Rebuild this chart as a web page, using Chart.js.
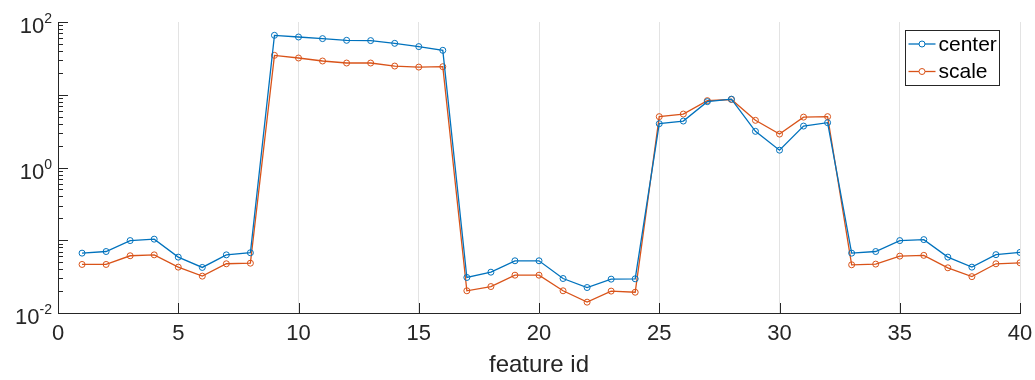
<!DOCTYPE html>
<html>
<head>
<meta charset="utf-8">
<script src="https://cdn.jsdelivr.net/npm/chart.js@4/dist/chart.umd.min.js"></script>
<style>
  html, body { margin: 0; padding: 0; background: #fff; }
  #wrap { width: 1035px; height: 380px; }
</style>
</head>
<body>
<div id="wrap"><canvas id="chart" width="1035" height="380"></canvas></div>
<script>
// data
const featureIds = [1, 2, 3, 4, 5, 6, 7, 8, 9, 10, 11, 12, 13, 14, 15, 16, 17, 18, 19, 20,
  21, 22, 23, 24, 25, 26, 27, 28, 29, 30, 31, 32, 33, 34, 35, 36, 37, 38, 39, 40]
const centerValues = [0.0665, 0.070, 0.099, 0.1035, 0.0586, 0.0423, 0.063, 0.0673,
  65.6, 62.2, 59.1, 56.0, 55.5, 50.9, 45.9, 40.8,
  0.0308, 0.0364, 0.0522, 0.0522, 0.0298, 0.0224, 0.0292, 0.0295,
  4.0, 4.35, 8.04, 8.7, 3.14, 1.73, 3.71, 4.13,
  0.0665, 0.070, 0.099, 0.102, 0.0586, 0.0427, 0.0634, 0.068]
const scaleValues = [0.0465, 0.0465, 0.0612, 0.063, 0.0427, 0.0321, 0.0475, 0.0484,
  34.8, 32.0, 29.1, 27.3, 27.3, 24.8, 24.0, 24.3,
  0.0202, 0.0231, 0.0331, 0.0331, 0.0202, 0.0141, 0.020, 0.0193,
  5.0, 5.43, 8.3, 8.6, 4.45, 2.88, 4.93, 5.0,
  0.046, 0.047, 0.0605, 0.062, 0.0418, 0.0316, 0.0475, 0.049]
const seriesNames = ['center', 'scale']
const xTicks = [0, 5, 10, 15, 20, 25, 30, 35, 40]
const yTickValues = [0.01, 1, 100]
const yTickExponents = ['-2', '0', '2']
const xTitle = 'feature id'

const FONT = "'Liberation Sans', Arial, Helvetica, sans-serif"
const AXIS = '#262626'
const BLUE = '#0072BD'
const ORANGE = '#D95319'

const toPoints = vals => vals.map((v, i) => ({ x: featureIds[i], y: v }))

// y labels like 10^2 and inward tick marks
const axisDecor = {
  id: 'axisDecor',
  afterDraw(chart) {
    const { ctx, chartArea } = chart
    const xs = chart.scales.x
    const ys = chart.scales.y
    ctx.save()
    ctx.strokeStyle = AXIS
    ctx.lineWidth = 1

    // x ticks, pointing up
    xTicks.forEach(t => {
      const px = Math.round(xs.getPixelForValue(t)) + 0.5
      ctx.beginPath()
      ctx.moveTo(px, chartArea.bottom)
      ctx.lineTo(px, chartArea.bottom - 10)
      ctx.stroke()
    })

    // y ticks, major and minor, pointing right
    for (let e = -2; e <= 1; e++) {
      for (let m = 1; m <= 10; m++) {
        const v = m * Math.pow(10, e)
        const py = Math.round(ys.getPixelForValue(v)) + 0.5
        const len = (m === 1 || m === 10) ? 10 : 5
        ctx.beginPath()
        ctx.moveTo(chartArea.left, py)
        ctx.lineTo(chartArea.left + len, py)
        ctx.stroke()
      }
    }

    // y labels
    ctx.fillStyle = AXIS
    ctx.textBaseline = 'alphabetic'
    yTickValues.forEach((v, i) => {
      const py = ys.getPixelForValue(v)
      const right = chartArea.left - 6
      ctx.font = '14px ' + FONT
      const expW = ctx.measureText(yTickExponents[i]).width
      ctx.textAlign = 'left'
      ctx.fillText(yTickExponents[i], right - expW, py + 1)
      ctx.font = '22px ' + FONT
      ctx.textAlign = 'right'
      ctx.fillText('10', right - expW, py + 11)
    })
    ctx.restore()
  }
}

// boxed legend in the top right corner
const boxLegend = {
  id: 'boxLegend',
  afterDraw(chart) {
    const { ctx } = chart
    const x0 = 905.5, y0 = 30.5, w = 94, h = 55
    ctx.save()
    ctx.fillStyle = '#fff'
    ctx.fillRect(x0, y0, w, h)
    ctx.strokeStyle = AXIS
    ctx.lineWidth = 1
    ctx.strokeRect(x0, y0, w, h)
    chart.data.datasets.forEach((ds, i) => {
      const cy = y0 + 13.5 + i * 27.5
      ctx.strokeStyle = ds.borderColor
      ctx.lineWidth = 1.3
      ctx.beginPath()
      ctx.moveTo(x0 + 3, cy)
      ctx.lineTo(x0 + 30, cy)
      ctx.stroke()
      ctx.lineWidth = 1
      ctx.beginPath()
      ctx.arc(x0 + 16.5, cy, 3, 0, Math.PI * 2)
      ctx.fillStyle = '#fff'
      ctx.fill()
      ctx.stroke()
      ctx.fillStyle = '#000'
      ctx.font = '21px ' + FONT
      ctx.textAlign = 'left'
      ctx.textBaseline = 'middle'
      ctx.fillText(ds.label, x0 + 33, cy + 1)
    })
    ctx.restore()
  }
}

const ctx = document.getElementById('chart').getContext('2d')

const chart = new Chart(ctx, {
  type: 'line',
  data: {
    datasets: [{
      label: seriesNames[0],
      data: toPoints(centerValues),
      borderColor: BLUE,
      backgroundColor: 'rgba(0,0,0,0)',
      borderWidth: 1.3,
      pointRadius: 3,
      pointBorderWidth: 1,
      pointBorderColor: BLUE,
      pointBackgroundColor: 'rgba(0,0,0,0)',
      tension: 0
    }, {
      label: seriesNames[1],
      data: toPoints(scaleValues),
      borderColor: ORANGE,
      backgroundColor: 'rgba(0,0,0,0)',
      borderWidth: 1.3,
      pointRadius: 3,
      pointBorderWidth: 1,
      pointBorderColor: ORANGE,
      pointBackgroundColor: 'rgba(0,0,0,0)',
      tension: 0
    }]
  },
  options: {
    responsive: false,
    animation: false,
    devicePixelRatio: 1,
    layout: { padding: { left: 58, right: 15, top: 22, bottom: 0 } },
    plugins: {
      legend: { display: false },
      tooltip: { enabled: false }
    },
    scales: {
      x: {
        type: 'linear',
        min: 0,
        max: 40,
        afterBuildTicks: scale => { scale.ticks = xTicks.map(v => ({ value: v })) },
        afterFit: scale => {
          scale.height = 67
          scale.paddingLeft = 0
          scale.paddingRight = 0
        },
        grid: { color: '#e3e3e3', lineWidth: 1, drawTicks: false },
        border: { display: true, color: AXIS, width: 1 },
        ticks: {
          color: AXIS,
          font: { family: FONT, size: 22 },
          padding: 8,
          maxRotation: 0
        },
        title: {
          display: true,
          text: xTitle,
          color: AXIS,
          font: { family: FONT, size: 24 },
          padding: { top: 0, bottom: 0 }
        }
      },
      y: {
        type: 'logarithmic',
        min: 0.01,
        max: 100,
        afterFit: scale => { scale.width = 0 },
        grid: { display: false },
        border: { display: true, color: AXIS, width: 1 },
        ticks: { display: false }
      }
    }
  },
  plugins: [axisDecor, boxLegend]
})
</script>
</body>
</html>
